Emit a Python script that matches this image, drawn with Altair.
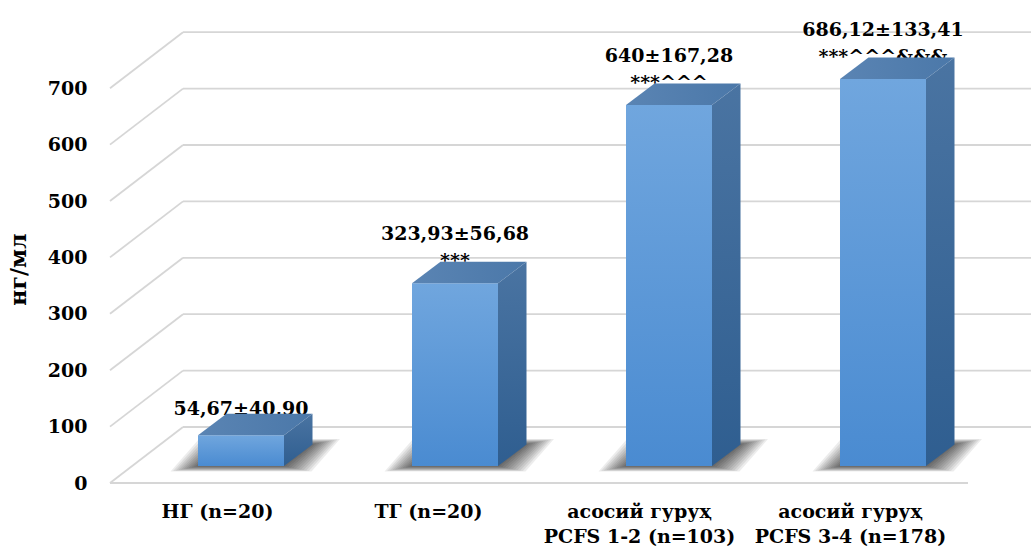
import json
import altair as alt
import pandas as pd

# ---------------- data ----------------
categories = [
    ["НГ (n=20)"],
    ["ТГ (n=20)"],
    ["асосий гуруҳ", "PCFS 1-2 (n=103)"],
    ["асосий гуруҳ", "PCFS 3-4 (n=178)"],
]
values = [54.67, 323.93, 640.0, 686.12]
label_main = ["54,67±40,90", "323,93±56,68", "640±167,28", "686,12±133,41"]
label_sig = ["", "***", "***^^^", "***^^^&&&"]
tick_values = [0, 100, 200, 300, 400, 500, 600, 700]
y_title = "нг/мл"

# ---------------- geometry (3D oblique look) ----------------
W, H = 921, 483          # plot area in px
BAND = 214.0             # px per category
PXU = 0.564              # px per value unit
XMAX = W / BAND
YMAX = H / PXU
FLOOR_DX = 73 / BAND
FLOOR_DY = 56 / PXU
FRONT_END = 858 / BAND
BAR_OFF = 24 / BAND
BAR_HALF = 43 / BAND
BAR_DX = 28.5 / BAND
BAR_BASE = 17 / PXU
BAR_DY = 21.5 / PXU
LABEL_STEP = 211 / BAND  # category labels sit slightly tighter than the bars

FONT = "DejaVu Serif"

xscale = alt.Scale(domain=[0, XMAX], nice=False, zero=False)
yscale = alt.Scale(domain=[0, YMAX], nice=False, zero=False)

label_pos = [0.5 + i * LABEL_STEP for i in range(len(categories))]
lookup = "{" + ",".join(
    f"'{p:.6f}':{json.dumps(c, ensure_ascii=False)}" for p, c in zip(label_pos, categories)
) + "}"
cat_expr = lookup + "[format(datum.value, '.6f')]"

xaxis = alt.Axis(
    values=label_pos,
    labelExpr=cat_expr,
    labelFont=FONT, labelFontSize=19, labelFontWeight="bold", labelColor="black",
    labelPadding=19, labelLineHeight=25, labelLimit=400, labelOverlap=False,
    labelFlush=False, labelAlign="center", labelBaseline="top",
    ticks=False, domain=False, grid=False, title="",
)
yaxis = alt.Axis(
    values=tick_values,
    labelFont=FONT, labelFontSize=19, labelFontWeight="bold", labelColor="black",
    labelPadding=23, ticks=False, domain=False, grid=False,
    title=y_title, titleFont=FONT, titleFontSize=22, titleFontWeight="bold",
    titleColor="black", titleX=-92, titleY=269, titleAngle=270,
    titleAlign="center", titleBaseline="middle",
)


def X(f):
    return alt.X(f, type="quantitative", scale=xscale, axis=xaxis)


def Y(f):
    return alt.Y(f, type="quantitative", scale=yscale, axis=yaxis)


# ---------------- gridlines ----------------
grid_rows = []
for v in tick_values:
    grid_rows.append({"gx": FLOOR_DX, "gx2": XMAX, "gy": v + FLOOR_DY, "gy2": v + FLOOR_DY})
    grid_rows.append({"gx": 0.0, "gx2": FLOOR_DX, "gy": v, "gy2": v + FLOOR_DY})
grid_rows.append({"gx": 0.0, "gx2": FRONT_END, "gy": 0.0, "gy2": 0.0})
grid = alt.Chart(pd.DataFrame(grid_rows)).mark_rule(color="#d6d6d6", strokeWidth=1.8).encode(
    x=X("gx"), x2="gx2", y=Y("gy"), y2="gy2"
)

# ---------------- bars ----------------
shadow_levels = [(1.5 + 2.6 * k, 0.4 + 0.5 * k) for k in range(11)]
front_rows, top_rows, side_rows, shadow_rows, text_rows = [], [], [], [], []
for i, v in enumerate(values):
    x0 = i + 0.5 + BAR_OFF - BAR_HALF
    x1 = x0 + 2 * BAR_HALF
    top = BAR_BASE + v
    topback = top + BAR_DY
    front_rows.append({"i": i, "x0": x0, "x1": x1, "yb": BAR_BASE, "yt": top})
    top_rows.append({"i": i, "ty": top, "tx": x0, "tx2": x1})
    top_rows.append({"i": i, "ty": topback, "tx": x0 + BAR_DX, "tx2": x1 + BAR_DX})
    side_rows.append({"i": i, "sx": x1, "sy": BAR_BASE, "sy2": top})
    side_rows.append({"i": i, "sx": x1 + BAR_DX, "sy": BAR_BASE + BAR_DY, "sy2": topback})
    for lvl, (e, ev) in enumerate(shadow_levels):
        ee = e / BAND
        eu = ev / PXU
        key = i * 100 + lvl
        shadow_rows.append({"k": key, "hy": BAR_BASE - eu, "hx": x0 - ee, "hx2": x1 + ee})
        shadow_rows.append({"k": key, "hy": BAR_BASE + BAR_DY + eu,
                            "hx": x0 + BAR_DX - ee, "hx2": x1 + BAR_DX + ee})
    cx = (x0 + x1) / 2
    if label_sig[i]:
        text_rows.append({"lx": cx, "ly": topback - 5 / PXU, "t": label_sig[i]})
        text_rows.append({"lx": cx, "ly": topback + 22 / PXU, "t": label_main[i]})
    else:
        text_rows.append({"lx": cx, "ly": topback - 1 / PXU, "t": label_main[i]})

shadow = alt.Chart(pd.DataFrame(shadow_rows)).mark_area(
    orient="horizontal", color="#000000", fillOpacity=0.075, strokeWidth=0
).encode(y=Y("hy"), x=X("hx"), x2="hx2", detail="k:N")

front = alt.Chart(pd.DataFrame(front_rows)).mark_rect(
    color=alt.Gradient(
        gradient="linear", x1=0, x2=0, y1=0, y2=1,
        stops=[alt.GradientStop(color="#70a6de", offset=0),
               alt.GradientStop(color="#4a8bd1", offset=1)],
    )
).encode(x=X("x0"), x2="x1", y=Y("yb"), y2="yt")

topface = alt.Chart(pd.DataFrame(top_rows)).mark_area(
    orient="horizontal",
    color=alt.Gradient(
        gradient="linear", x1=0, x2=1, y1=0, y2=0,
        stops=[alt.GradientStop(color="#5a84b3", offset=0),
               alt.GradientStop(color="#4b78a9", offset=1)],
    ),
).encode(y=Y("ty"), x=X("tx"), x2="tx2", detail="i:N")

sideface = alt.Chart(pd.DataFrame(side_rows)).mark_area(
    color=alt.Gradient(
        gradient="linear", x1=0, x2=0, y1=0, y2=1,
        stops=[alt.GradientStop(color="#4a74a2", offset=0),
               alt.GradientStop(color="#2f5e90", offset=1)],
    ),
).encode(x=X("sx"), y=Y("sy"), y2="sy2", detail="i:N")

labels = alt.Chart(pd.DataFrame(text_rows)).mark_text(
    font=FONT, fontSize=19, fontWeight="bold", color="black",
    align="center", baseline="alphabetic",
).encode(x=X("lx"), y=Y("ly"), text="t:N")

chart = alt.layer(grid, shadow, labels, front, topface, sideface).properties(
    width=W, height=H,
    padding={"left": 110, "top": 0, "right": 0, "bottom": 68},
    autosize="none",
    background="white",
).configure_view(strokeWidth=0)

chart.save("out.html", embed_options={"renderer": "svg", "actions": False})
